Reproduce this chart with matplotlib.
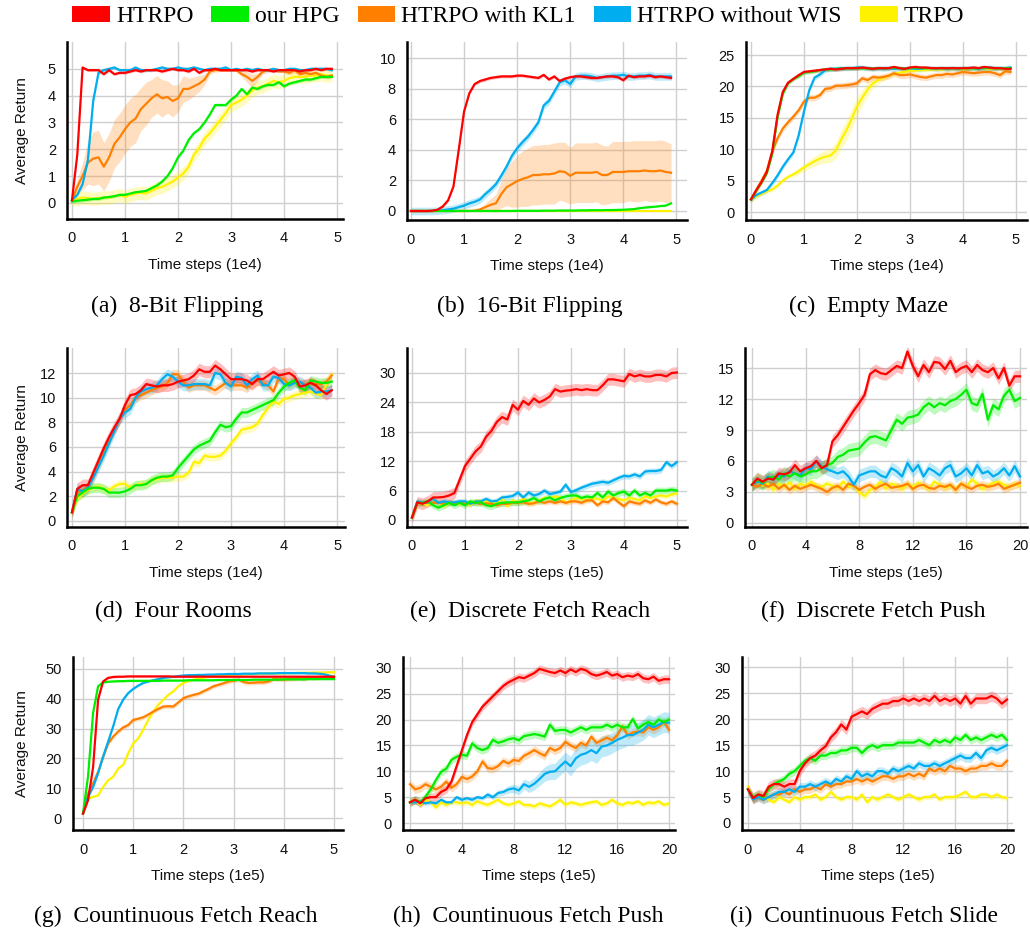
import numpy as np
import matplotlib.pyplot as plt
from matplotlib.patches import Patch

plt.rcParams['font.family'] = ['Liberation Sans', 'DejaVu Sans']

names = ['HTRPO', 'our HPG', 'HTRPO with KL1', 'HTRPO without WIS', 'TRPO']
colors = ['#ff0000', '#00ee00', '#ff8000', '#00adef', '#fff200']

# ---- (a) 8-Bit Flipping, 0..4.9 (1e4)
a_red = [0.1, 1.8, 5.05, 4.95, 4.95, 4.95, 4.8, 4.95, 4.8, 4.85,
         4.85, 4.9, 4.95, 4.9, 4.95, 4.95, 4.95, 4.9, 4.95, 5.0,
         4.95, 4.95, 4.9, 5.0, 4.85, 4.95, 4.95, 5.0, 4.95, 4.95,
         4.95, 4.95, 4.95, 4.95, 4.9, 4.95, 4.95, 4.95, 4.9, 4.95,
         4.95, 4.95, 4.95, 4.9, 4.95, 4.95, 5.0, 4.95, 5.0, 5.0]
a_green = [0.05, 0.08, 0.1, 0.12, 0.15, 0.15, 0.2, 0.22, 0.25, 0.3,
           0.3, 0.35, 0.4, 0.42, 0.45, 0.55, 0.65, 0.8, 1.0, 1.3,
           1.7, 1.95, 2.35, 2.6, 2.75, 3.0, 3.3, 3.65, 3.65, 3.65,
           3.85, 4.0, 4.25, 4.05, 4.3, 4.25, 4.35, 4.4, 4.4, 4.5,
           4.35, 4.45, 4.5, 4.55, 4.6, 4.6, 4.65, 4.7, 4.7, 4.7]
a_orange = [0.1, 0.6, 1.0, 1.5, 1.65, 1.7, 1.35, 1.7, 2.2, 2.45,
            2.75, 3.0, 3.15, 3.5, 3.7, 3.9, 4.05, 3.9, 3.95, 3.8,
            3.9, 4.25, 4.25, 4.35, 4.45, 4.6, 4.9, 4.95, 4.95, 4.95,
            4.95, 4.95, 4.8, 4.7, 4.55, 4.7, 4.9, 4.95, 4.95, 4.9,
            4.9, 4.85, 4.95, 4.8, 4.85, 4.8, 4.85, 4.75, 4.7, 4.75]
a_blue = [0.1, 0.3, 0.7, 1.6, 3.8, 4.85, 4.95, 5.0, 5.05, 4.95,
          4.95, 4.95, 5.05, 4.95, 4.95, 4.95, 5.0, 5.05, 5.0, 5.0,
          5.05, 5.0, 5.0, 5.05, 5.0, 4.95, 5.0, 5.0, 5.0, 5.05,
          4.95, 5.0, 4.95, 5.0, 4.95, 5.0, 4.95, 4.95, 5.0, 4.95,
          4.95, 5.0, 5.0, 4.95, 4.95, 5.0, 5.0, 5.0, 5.0, 4.95]
a_yellow = [0.1, 0.15, 0.2, 0.18, 0.15, 0.18, 0.2, 0.2, 0.25, 0.3,
            0.22, 0.3, 0.35, 0.38, 0.35, 0.45, 0.55, 0.6, 0.7, 0.8,
            0.95, 1.1, 1.35, 1.8, 2.05, 2.4, 2.6, 2.85, 3.1, 3.35,
            3.65, 3.75, 3.85, 4.0, 4.2, 4.3, 4.35, 4.45, 4.55, 4.5,
            4.55, 4.65, 4.7, 4.7, 4.7, 4.75, 4.75, 4.8, 4.75, 4.75]
a_orange_band = [0.05, 0.3, 0.5, 0.8, 1.0, 1.0, 0.9, 0.9, 0.9, 0.9,
                 0.9, 0.9, 0.9, 0.8, 0.8, 0.7, 0.7, 0.7, 0.6, 0.6,
                 0.5, 0.5, 0.4, 0.35, 0.3, 0.2, 0.1, 0.08, 0.05, 0.05,
                 0.05, 0.05, 0.1, 0.2, 0.25, 0.15, 0.1, 0.08, 0.05, 0.05,
                 0.05, 0.08, 0.1, 0.15, 0.1, 0.08, 0.08, 0.08, 0.08, 0.08]

# ---- (b) 16-Bit Flipping
b_red = [0, 0, 0, 0, 0.02, 0.08, 0.3, 0.7, 1.6, 4.0,
         6.5, 7.7, 8.3, 8.5, 8.6, 8.7, 8.75, 8.8, 8.8, 8.8,
         8.85, 8.85, 8.8, 8.75, 8.7, 8.9, 8.6, 8.8, 8.5, 8.65,
         8.75, 8.8, 8.8, 8.75, 8.7, 8.7, 8.75, 8.8, 8.8, 8.75,
         8.55, 8.85, 8.75, 8.8, 8.8, 8.85, 8.75, 8.8, 8.75, 8.7]
b_green = [0, 0, 0, 0, 0, 0, 0, 0, 0, 0,
           0, 0, 0, 0, 0, 0, 0, 0, 0, 0,
           0.01, 0.01, 0.01, 0.01, 0.01, 0.02, 0.02, 0.02, 0.03, 0.03,
           0.03, 0.03, 0.04, 0.04, 0.05, 0.05, 0.05, 0.06, 0.06, 0.07,
           0.08, 0.1, 0.12, 0.18, 0.22, 0.25, 0.28, 0.32, 0.35, 0.5]
b_orange = [0, 0, 0, 0, 0, 0, 0, 0, 0, 0,
            0, 0, 0.02, 0.1, 0.25, 0.4, 0.5, 1.1, 1.55, 1.75,
            1.95, 2.1, 2.2, 2.35, 2.35, 2.4, 2.4, 2.45, 2.6, 2.55,
            2.3, 2.5, 2.5, 2.5, 2.5, 2.55, 2.35, 2.35, 2.55, 2.55,
            2.55, 2.6, 2.6, 2.6, 2.65, 2.6, 2.6, 2.65, 2.55, 2.5]
b_blue = [0, 0, 0, 0, 0, 0.02, 0.05, 0.1, 0.15, 0.25,
          0.35, 0.5, 0.6, 0.75, 1.1, 1.4, 1.75, 2.3, 2.9, 3.6,
          4.1, 4.5, 4.85, 5.3, 5.8, 6.9, 7.2, 7.8, 8.4, 8.55,
          8.3, 8.8, 8.85, 8.85, 8.8, 8.7, 8.75, 8.8, 8.85, 8.85,
          8.9, 8.8, 8.8, 8.85, 8.85, 8.9, 8.8, 8.8, 8.8, 8.8]
b_yellow = [0.0] * 50
b_orange_band = [0, 0, 0, 0, 0, 0, 0, 0, 0, 0,
                 0, 0, 0.02, 0.1, 0.25, 0.4, 0.6, 0.9, 1.2, 1.5,
                 1.7, 1.8, 1.9, 1.95, 1.95, 1.95, 1.95, 2.0, 1.9, 1.95,
                 1.85, 1.95, 1.95, 1.95, 1.95, 1.95, 1.95, 1.9, 2.0, 2.0,
                 2.0, 1.95, 2.0, 2.0, 1.95, 2.0, 2.0, 2.0, 2.0, 1.9]

# ---- (c) Empty Maze
c_red = [2.0, 3.5, 4.8, 6.4, 9.6, 15.4, 19.1, 20.6, 21.2, 21.8,
         22.3, 22.4, 22.5, 22.6, 22.7, 22.8, 22.7, 22.8, 22.9, 22.9,
         22.9, 23.0, 22.9, 22.8, 22.9, 22.9, 22.9, 23.1, 22.9, 22.8,
         23.0, 23.1, 23.0, 23.0, 22.9, 22.9, 22.9, 22.9, 22.9, 22.9,
         22.9, 22.9, 23.0, 22.9, 23.1, 23.0, 22.9, 22.9, 22.8, 22.8]
c_green = [2.0, 3.4, 4.7, 6.2, 9.2, 15.0, 18.8, 20.5, 21.2, 21.6,
           22.2, 22.3, 22.4, 22.6, 22.7, 22.7, 22.8, 22.8, 22.9, 22.9,
           22.9, 22.9, 22.9, 22.8, 22.9, 22.9, 22.9, 23.0, 22.9, 22.8,
           22.9, 23.0, 22.9, 22.9, 22.9, 22.9, 22.9, 22.9, 22.9, 22.9,
           22.9, 22.9, 22.9, 22.9, 23.0, 22.9, 22.9, 22.9, 22.9, 22.9]
c_orange = [2.0, 3.5, 5.0, 6.6, 9.6, 11.7, 13.3, 14.3, 15.2, 16.2,
            17.6, 18.2, 18.2, 18.6, 19.6, 19.7, 20.1, 20.1, 20.2, 20.3,
            20.5, 21.3, 21.0, 21.5, 21.4, 21.5, 21.7, 22.1, 21.8, 21.8,
            21.9, 21.7, 21.5, 21.4, 21.6, 21.8, 21.8, 22.0, 21.9, 22.1,
            22.3, 22.2, 22.1, 22.2, 22.3, 22.3, 22.1, 21.8, 22.4, 22.3]
c_blue = [2.0, 2.7, 3.1, 3.5, 4.6, 5.8, 7.2, 8.4, 9.5, 12.2,
          16.0, 19.4, 21.4, 21.9, 22.6, 22.8, 22.8, 22.9, 22.9, 22.9,
          23.0, 23.0, 22.9, 22.8, 22.9, 22.8, 22.9, 22.8, 22.9, 22.8,
          22.9, 22.8, 22.8, 22.9, 22.9, 22.8, 22.9, 22.8, 22.9, 22.8,
          22.9, 22.9, 22.9, 22.8, 22.9, 23.0, 22.9, 22.9, 22.9, 23.0]
c_yellow = [2.0, 2.5, 2.9, 3.3, 3.6, 4.2, 5.0, 5.6, 6.0, 6.5,
            7.1, 7.6, 8.1, 8.5, 8.8, 9.0, 9.8, 11.5, 13.0, 14.8,
            16.8, 18.2, 19.5, 20.5, 21.0, 21.4, 21.7, 22.0, 22.2, 22.3,
            22.5, 22.5, 22.6, 22.6, 22.7, 22.7, 22.7, 22.8, 22.8, 22.8,
            22.7, 22.8, 22.9, 22.8, 22.9, 22.8, 22.9, 22.8, 22.7, 22.8]
c_yellow_band = [0.5, 0.4, 0.3, 0.3, 0.3, 0.3, 0.3, 0.3, 0.4, 0.5,
                 0.6, 0.7, 0.8, 0.9, 1.0, 1.1, 1.3, 1.5, 1.6, 1.6,
                 1.5, 1.3, 1.0, 0.8, 0.6, 0.5, 0.4, 0.3, 0.3, 0.3,
                 0.3, 0.3, 0.3, 0.3, 0.3, 0.3, 0.3, 0.3, 0.3, 0.3,
                 0.3, 0.3, 0.3, 0.3, 0.3, 0.3, 0.3, 0.3, 0.3, 0.3]

# ---- (d) Four Rooms
d_red = [0.7, 2.6, 2.9, 2.9, 3.9, 4.9, 5.9, 6.8, 7.6, 8.3,
         9.4, 10.2, 10.3, 10.6, 11.1, 11.0, 10.9, 11.0, 11.0, 11.1,
         11.3, 11.4, 11.5, 11.8, 12.3, 12.1, 12.1, 12.6, 12.3, 11.9,
         11.5, 11.5, 11.5, 11.4, 11.1, 11.5, 11.5, 11.8, 12.1, 11.8,
         11.9, 12.0, 11.7, 10.9, 11.0, 11.2, 11.0, 10.6, 10.3, 10.6]
d_green = [0.7, 2.0, 2.3, 2.6, 2.7, 2.7, 2.6, 2.3, 2.3, 2.3,
           2.4, 2.6, 2.9, 2.9, 3.0, 3.3, 3.5, 3.6, 3.6, 3.7,
           4.3, 4.8, 5.3, 5.8, 6.1, 6.3, 6.5, 7.2, 7.8, 7.6,
           7.7, 8.3, 8.8, 8.8, 9.0, 9.2, 9.4, 9.6, 9.8, 10.4,
           10.9, 11.2, 11.4, 10.8, 10.6, 11.4, 11.3, 11.2, 11.2, 11.3]
d_orange = [0.7, 2.4, 2.5, 2.8, 3.5, 4.5, 5.5, 6.5, 7.4, 8.3,
            9.0, 9.4, 10.0, 10.2, 10.4, 10.6, 10.8, 10.9, 11.2, 11.9,
            11.9, 11.3, 10.8, 11.0, 11.0, 11.0, 10.8, 10.6, 10.9, 11.2,
            11.0, 11.0, 11.0, 10.8, 11.2, 11.4, 11.2, 11.0, 10.5, 11.6,
            11.5, 11.0, 11.3, 11.2, 11.1, 11.2, 11.1, 11.1, 11.3, 11.8]
d_blue = [0.7, 2.6, 2.4, 2.7, 3.5, 4.4, 5.3, 6.3, 7.3, 8.3,
          8.8, 9.1, 10.0, 10.5, 10.7, 10.8, 11.0, 11.5, 11.9, 11.7,
          11.3, 11.0, 11.0, 11.1, 11.1, 11.1, 11.0, 12.0, 11.9, 11.2,
          10.9, 11.7, 11.6, 11.0, 11.5, 11.8, 11.0, 11.0, 11.7, 11.6,
          11.1, 11.0, 11.2, 11.3, 11.0, 10.8, 10.4, 10.5, 10.5, 10.6]
d_yellow = [0.7, 1.8, 2.2, 2.5, 2.7, 2.8, 2.6, 2.5, 2.8, 3.0,
            3.0, 2.7, 2.9, 3.0, 3.0, 3.3, 3.4, 3.5, 3.5, 3.5,
            3.6, 3.6, 3.9, 4.8, 4.7, 5.3, 5.2, 5.2, 5.3, 5.7,
            6.3, 6.8, 7.4, 7.5, 7.6, 7.9, 8.6, 9.2, 9.7, 9.5,
            9.9, 10.0, 10.2, 10.3, 10.4, 10.5, 10.3, 10.2, 11.1, 11.9]

# ---- (e) Discrete Fetch Reach, 0..5 (1e5)
e_red = [0.5, 3.6, 3.3, 3.8, 4.6, 4.6, 4.7, 5.0, 5.5, 8.2,
         11.0, 12.5, 14.0, 15.0, 17.0, 18.2, 20.0, 21.0, 20.5, 23.5,
         22.5, 24.3, 23.5, 24.8, 24.0, 24.5, 25.2, 26.7, 26.2, 26.4,
         26.5, 26.7, 26.5, 26.7, 26.5, 26.5, 27.5, 28.7, 28.7, 28.5,
         28.3, 29.8, 29.3, 29.6, 29.3, 29.3, 29.6, 29.6, 29.3, 30.0,
         30.1]
e_green = [0.5, 3.5, 3.5, 3.8, 3.0, 2.5, 3.0, 3.5, 3.0, 3.5,
           3.0, 3.8, 3.5, 3.6, 3.0, 2.8, 3.3, 3.5, 3.6, 3.6,
           3.6, 3.8, 4.0, 4.5, 3.8, 4.3, 4.6, 4.0, 4.5, 4.8,
           5.0, 5.0, 4.5, 4.8, 4.6, 5.5, 4.6, 5.8, 5.0, 5.5,
           5.8, 5.0, 6.0, 5.0, 5.5, 5.0, 6.0, 6.0, 6.0, 6.2,
           6.0]
e_orange = [0.5, 3.5, 3.5, 3.6, 3.5, 3.5, 3.3, 3.5, 3.5, 3.6,
            3.3, 3.5, 3.5, 3.3, 3.4, 3.3, 3.0, 3.3, 3.3, 3.5,
            3.5, 3.6, 3.3, 3.4, 3.8, 3.5, 3.8, 3.5, 3.8, 3.5,
            3.8, 3.8, 3.5, 4.0, 4.0, 3.0, 3.8, 3.6, 4.5, 3.6,
            2.8, 3.8, 3.5, 3.3, 4.0, 3.5, 4.2, 3.6, 3.3, 3.8,
            3.3]
e_blue = [0.5, 3.8, 3.5, 3.6, 4.3, 3.5, 3.8, 3.6, 3.6, 3.8,
          3.8, 3.3, 3.8, 3.8, 4.3, 3.8, 3.9, 4.6, 4.7, 4.9,
          5.6, 4.6, 5.6, 5.0, 5.3, 6.0, 5.3, 5.5, 5.8, 7.2,
          5.7, 6.1, 6.6, 7.0, 7.4, 7.6, 7.8, 7.6, 8.1, 8.6,
          9.0, 8.9, 9.3, 8.9, 9.9, 10.0, 10.0, 10.2, 11.8, 11.0,
          11.8]
e_yellow = [0.5, 3.5, 3.3, 3.0, 4.3, 3.5, 2.8, 3.5, 3.5, 3.3,
            3.5, 3.0, 4.0, 3.8, 3.8, 3.5, 3.3, 4.5, 2.8, 4.0,
            3.5, 4.5, 3.3, 3.6, 4.0, 4.5, 4.5, 4.8, 4.6, 3.5,
            4.0, 4.5, 4.3, 4.0, 4.5, 4.3, 4.0, 4.8, 4.5, 4.3,
            4.0, 4.5, 4.3, 4.0, 4.8, 4.5, 4.8, 5.0, 4.8, 5.2,
            5.4]

# ---- (f) Discrete Fetch Push, 0..20 (1e5)
f_red = [3.7, 4.3, 4.0, 4.3, 4.2, 4.8, 4.7, 4.9, 5.6, 5.0,
         5.3, 5.5, 6.0, 5.3, 5.6, 7.9, 8.5, 9.3, 10.1, 10.9,
         11.6, 12.4, 14.4, 14.8, 14.5, 14.4, 14.8, 15.2, 15.0, 16.6,
         15.2, 14.2, 15.3, 14.6, 15.6, 15.5, 14.9, 15.7, 14.6, 15.0,
         15.2, 14.6, 15.3, 14.8, 14.6, 15.0, 14.0, 15.0, 13.3, 14.2,
         14.2]
f_green = [3.7, 4.2, 3.9, 4.3, 4.5, 4.2, 4.8, 4.5, 4.8, 4.5,
           4.7, 5.0, 5.0, 5.3, 5.6, 5.8, 6.4, 6.6, 7.0, 7.1,
           7.2, 7.8, 8.3, 8.4, 8.2, 8.0, 9.0, 10.0, 9.6, 10.2,
           10.3, 10.5, 11.2, 11.6, 11.2, 11.6, 11.4, 11.8, 12.0, 12.4,
           12.9, 11.6, 11.4, 12.5, 10.0, 11.4, 11.0, 12.3, 12.9, 11.8,
           12.1]
f_orange = [3.7, 3.5, 3.8, 3.5, 3.8, 3.3, 3.7, 3.2, 3.6, 3.3,
            3.5, 3.7, 3.5, 3.3, 3.0, 3.4, 3.6, 3.2, 3.8, 3.6,
            3.2, 3.5, 3.7, 3.3, 3.6, 3.8, 3.4, 3.5, 3.6, 3.8,
            3.3, 3.6, 3.7, 3.4, 3.3, 3.6, 3.5, 3.7, 3.2, 3.8,
            3.5, 3.3, 3.6, 3.7, 3.5, 3.6, 3.8, 3.3, 3.5, 3.7,
            3.9]
f_blue = [3.7, 4.0, 3.8, 4.5, 4.2, 4.6, 4.5, 5.0, 4.8, 4.6,
          5.3, 5.2, 6.0, 5.5, 5.2, 5.0, 4.8, 5.0, 4.5, 3.7,
          4.6, 4.8, 5.0, 5.0, 4.6, 4.4, 5.3, 5.0, 4.5, 5.8,
          5.0, 5.6, 4.5, 5.3, 5.0, 4.6, 5.3, 5.6, 4.5, 4.8,
          5.3, 4.6, 5.6, 4.8, 5.0, 4.5, 4.8, 5.3, 4.6, 5.5,
          4.5]
f_yellow = [3.7, 4.0, 3.6, 3.8, 3.2, 3.8, 3.5, 3.9, 3.3, 3.8,
            3.6, 4.0, 3.6, 3.5, 3.8, 3.6, 3.4, 4.0, 3.5, 3.6,
            3.0, 2.6, 3.2, 3.5, 4.0, 3.3, 3.8, 3.6, 3.3, 3.8,
            3.5, 3.9, 3.6, 3.3, 4.0, 3.7, 3.4, 3.6, 3.3, 3.8,
            3.5, 4.2, 3.8, 3.3, 3.6, 3.9, 4.0, 3.7, 3.5, 3.8,
            3.6]

# ---- (g) Countinuous Fetch Reach, 0..5 (1e5)
g_red = [1.5, 6.0, 17.0, 39.7, 45.8, 47.0, 47.3, 47.4, 47.4, 47.5,
         47.5, 47.5, 47.5, 47.5, 47.5, 47.5, 47.5, 47.5, 47.4, 47.4,
         47.4, 47.4, 47.4, 47.4, 47.4, 47.4, 47.4, 47.4, 47.4, 47.4,
         47.4, 47.4, 47.4, 47.4, 47.4, 47.4, 47.4, 47.4, 47.4, 47.4,
         47.4, 47.4, 47.4, 47.4, 47.4, 47.4, 47.4, 47.4, 47.4, 47.4,
         47.3]
g_green = [1.5, 14.0, 35.2, 44.2, 45.5, 45.7, 45.8, 45.9, 45.9, 46.0,
           46.0, 46.0, 46.0, 46.0, 46.0, 46.0, 46.1, 46.1, 46.1, 46.1,
           46.1, 46.2, 46.2, 46.2, 46.2, 46.2, 46.2, 46.3, 46.3, 46.3,
           46.3, 46.3, 46.3, 46.3, 46.4, 46.4, 46.4, 46.4, 46.4, 46.4,
           46.5, 46.5, 46.5, 46.5, 46.5, 46.6, 46.6, 46.6, 46.6, 46.6,
           46.6]
g_orange = [1.5, 8.2, 11.6, 15.5, 20.5, 25.0, 27.3, 29.0, 30.4, 31.2,
            32.9, 33.3, 33.8, 34.7, 35.7, 36.6, 37.4, 37.5, 37.4, 38.8,
            40.2, 40.8, 41.3, 41.7, 42.5, 43.3, 44.2, 44.7, 45.2, 45.8,
            46.0, 46.4, 45.6, 45.3, 45.4, 45.5, 45.5, 45.8, 46.6, 46.5,
            46.4, 46.6, 46.6, 46.8, 46.6, 47.0, 46.9, 47.1, 47.2, 47.3,
            47.5]
g_blue = [1.5, 7.1, 10.4, 15.0, 20.6, 25.6, 30.7, 36.5, 39.7, 41.9,
          43.3, 44.4, 45.3, 45.8, 46.2, 46.6, 47.0, 47.2, 47.4, 47.6,
          47.8, 47.9, 47.9, 48.0, 48.0, 48.1, 48.1, 48.2, 48.2, 48.3,
          48.3, 48.3, 48.4, 48.4, 48.4, 48.5, 48.5, 48.5, 48.5, 48.6,
          48.6, 48.6, 48.6, 48.6, 48.6, 48.5, 48.5, 48.4, 48.2, 47.8,
          47.3]
g_yellow = [1.5, 6.5, 7.1, 7.6, 10.4, 12.7, 13.8, 16.6, 17.8, 21.7,
            25.0, 26.7, 29.6, 32.9, 35.7, 38.0, 39.7, 41.3, 42.5, 44.2,
            45.3, 45.9, 46.4, 46.8, 47.1, 47.3, 47.5, 47.7, 47.9, 48.0,
            48.1, 48.2, 48.2, 48.3, 48.3, 48.4, 48.4, 48.5, 48.5, 48.5,
            48.6, 48.6, 48.6, 48.7, 48.7, 48.7, 48.8, 48.8, 48.8, 48.9,
            48.9]

# ---- (h) Countinuous Fetch Push, 0..20 (1e5)
h_red = [4.0, 4.5, 3.8, 4.8, 5.0, 5.0, 6.0, 6.5, 8.0, 11.0,
         14.0, 17.0, 19.5, 21.0, 22.5, 23.5, 24.5, 25.5, 26.5, 27.2,
         27.7, 28.2, 28.0, 28.5, 29.0, 29.8, 29.5, 29.2, 29.0, 29.5,
         29.0, 29.7, 29.2, 29.8, 29.5, 28.8, 28.5, 28.8, 29.2, 28.5,
         28.8, 28.2, 28.5, 28.3, 28.8, 28.0, 27.8, 28.3, 27.5, 27.8,
         27.8]
h_green = [4.0, 4.5, 4.0, 5.1, 6.5, 8.3, 9.9, 10.5, 12.2, 12.8,
           13.2, 13.0, 15.4, 14.5, 14.1, 14.5, 16.1, 15.5, 15.8, 16.2,
           16.4, 16.0, 16.8, 17.0, 17.2, 17.0, 16.7, 19.0, 17.8, 18.0,
           18.0, 17.5, 18.0, 18.5, 18.0, 18.5, 18.5, 18.5, 19.0, 18.5,
           19.0, 18.5, 18.5, 20.1, 18.3, 19.0, 19.5, 19.0, 20.0, 19.5,
           20.0]
h_orange = [7.5, 6.5, 6.8, 7.5, 7.0, 6.5, 7.0, 8.0, 6.8, 7.5,
            8.9, 8.5, 9.0, 10.0, 11.9, 10.6, 10.5, 11.0, 12.0, 11.5,
            12.2, 12.0, 13.0, 13.5, 14.1, 13.5, 13.0, 14.5, 14.0, 14.5,
            15.7, 15.0, 14.5, 15.5, 15.0, 16.7, 15.5, 16.0, 16.5, 16.0,
            17.0, 18.7, 17.0, 17.5, 17.7, 17.5, 18.5, 18.0, 18.5, 19.6,
            18.0]
h_blue = [4.0, 4.0, 4.2, 3.8, 4.0, 3.8, 4.5, 4.0, 4.0, 5.0,
          4.5, 4.8, 4.5, 5.0, 4.8, 5.5, 5.0, 5.8, 6.0, 6.5,
          6.7, 6.3, 7.5, 7.0, 7.6, 8.5, 9.5, 9.9, 10.0, 11.0,
          11.9, 11.0, 12.5, 13.2, 13.5, 14.1, 13.5, 14.8, 15.0, 15.5,
          16.1, 16.5, 17.0, 17.0, 17.5, 18.0, 19.0, 18.5, 19.0, 19.5,
          19.4]
h_yellow = [4.0, 4.5, 3.5, 4.5, 4.0, 3.0, 4.0, 3.5, 4.0, 4.0,
            3.8, 4.0, 3.5, 4.2, 3.8, 3.5, 4.0, 4.5, 3.8, 3.5,
            3.8, 4.2, 3.5, 3.5, 3.2, 3.8, 3.5, 3.2, 3.8, 4.5,
            3.5, 4.0, 3.8, 3.5, 3.8, 4.0, 4.2, 3.5, 3.8, 4.5,
            3.8, 3.5, 4.0, 3.8, 4.2, 3.5, 4.0, 3.8, 4.2, 3.5,
            3.8]
h_blue_band = [0.4, 0.4, 0.4, 0.4, 0.4, 0.4, 0.4, 0.4, 0.4, 0.4,
               0.4, 0.4, 0.4, 0.4, 0.4, 0.5, 0.5, 0.6, 0.6, 0.7,
               0.8, 0.9, 1.0, 1.1, 1.2, 1.3, 1.4, 1.5, 1.6, 1.7,
               1.8, 1.9, 2.0, 2.0, 2.0, 2.0, 2.0, 2.0, 2.0, 2.0,
               2.0, 2.0, 2.0, 2.0, 2.0, 2.0, 2.0, 2.0, 2.0, 2.0,
               2.0]

# ---- (i) Countinuous Fetch Slide, 0..20 (1e5)
i_red = [6.5, 4.8, 5.5, 5.2, 7.0, 7.5, 7.5, 7.0, 7.5, 7.5,
         10.0, 11.5, 12.5, 13.0, 14.0, 14.8, 16.5, 17.5, 19.0, 18.0,
         20.5, 21.0, 21.5, 21.0, 22.0, 22.5, 23.0, 23.0, 23.5, 23.5,
         24.0, 23.5, 24.0, 23.5, 24.0, 23.5, 24.5, 23.5, 24.0, 23.5,
         24.0, 23.0, 24.5, 23.0, 24.0, 24.0, 24.0, 24.5, 24.0, 23.0,
         23.8]
i_green = [6.5, 5.0, 5.5, 5.0, 6.5, 7.5, 8.0, 8.5, 9.5, 10.0,
           11.0, 12.0, 12.5, 12.0, 13.0, 13.0, 13.5, 13.5, 14.0, 14.0,
           14.5, 14.5, 13.5, 14.5, 15.0, 14.5, 15.0, 15.0, 15.0, 15.5,
           15.5, 15.5, 15.5, 16.0, 15.5, 15.0, 16.0, 15.5, 16.0, 15.5,
           16.5, 16.0, 17.0, 16.0, 16.5, 16.0, 16.5, 17.0, 16.5, 17.0,
           16.0]
i_orange = [6.5, 4.5, 5.0, 4.5, 5.0, 5.5, 5.5, 6.0, 5.5, 6.5,
            6.0, 6.5, 6.5, 7.0, 6.5, 7.5, 7.0, 7.5, 7.5, 8.0,
            8.0, 8.5, 8.0, 8.5, 8.0, 8.5, 9.0, 9.0, 8.5, 9.0,
            9.0, 9.5, 9.0, 9.5, 9.0, 10.5, 10.0, 10.5, 10.0, 11.0,
            10.5, 10.5, 10.0, 10.5, 10.5, 11.0, 11.0, 11.5, 11.0, 11.0,
            12.0]
i_blue = [6.5, 4.5, 5.0, 4.5, 5.0, 5.5, 6.0, 6.0, 6.5, 6.0,
          7.0, 7.0, 7.5, 7.0, 7.5, 8.0, 7.5, 8.5, 8.0, 9.0,
          8.5, 10.0, 9.0, 9.5, 9.0, 10.0, 10.0, 9.5, 10.5, 10.0,
          10.5, 11.0, 10.5, 11.5, 11.0, 11.0, 11.5, 11.0, 11.5, 12.0,
          12.5, 13.0, 12.5, 12.5, 13.5, 12.5, 14.0, 14.5, 14.0, 14.5,
          15.0]
i_yellow = [7.0, 4.5, 5.5, 5.0, 4.5, 4.0, 5.0, 4.5, 4.0, 5.0,
            4.5, 5.0, 5.0, 5.5, 4.5, 5.0, 6.0, 5.0, 4.5, 5.0,
            5.0, 4.5, 5.5, 4.0, 5.0, 4.5, 5.0, 5.5, 5.0, 4.5,
            5.0, 5.5, 5.0, 4.5, 5.0, 5.0, 5.5, 4.5, 5.0, 5.0,
            5.0, 5.5, 6.0, 5.0, 5.0, 5.5, 5.5, 5.0, 5.5, 5.0,
            4.8]

# band half-widths (red, green, orange, blue, yellow)
a_band = [0.05, 0.06, a_orange_band, 0.06, 0.25]
b_band = [0.1, 0.03, b_orange_band, 0.25, 0.02]
c_band = [0.3, 0.3, 0.5, 0.4, c_yellow_band]
d_band = [0.5, 0.4, 0.4, 0.45, 0.35]
e_band = [1.2, 0.7, 0.5, 0.6, 0.5]
f_band = [0.6, 0.7, 0.4, 0.6, 0.4]
g_band = [0.3, 0.3, 0.7, 0.3, 0.3]
h_band = [0.8, 0.8, 0.8, h_blue_band, 0.5]
i_band = [1.0, 0.8, 0.8, 0.8, 0.5]

W, H = 1030, 931
fig = plt.figure(figsize=(W / 100, H / 100), dpi=100)

panels = [
    # series, bands, x_end, rect(px l,t,r,b), xlim, ylim, xticks, yticks, unit, caption, caption x
    ([a_red, a_green, a_orange, a_blue, a_yellow], a_band, 4.9, (67, 42, 343, 219),
     (-0.094, 5.11), (-0.6, 6.0), range(0, 6), range(0, 6), '1e4', '(a)  8-Bit Flipping', 177),
    ([b_red, b_green, b_orange, b_blue, b_yellow], b_band, 4.9, (407, 42, 687, 220),
     (-0.075, 5.2), (-0.59, 11.05), range(0, 6), range(0, 11, 2), '1e4', '(b)  16-Bit Flipping', 530),
    ([c_red, c_green, c_orange, c_blue, c_yellow], c_band, 4.9, (746, 42, 1027, 220),
     (-0.094, 5.21), (-1.27, 27.07), range(0, 6), range(0, 26, 5), '1e4', '(c)  Empty Maze', 869),
    ([d_red, d_green, d_orange, d_blue, d_yellow], d_band, 4.9, (67, 348, 345, 527),
     (-0.094, 5.15), (-0.49, 14.03), range(0, 6), range(0, 13, 2), '1e4', '(d)  Four Rooms', 173),
    ([e_red, e_green, e_orange, e_blue, e_yellow], e_band, 5.0, (407, 348, 687, 527),
     (-0.094, 5.19), (-1.43, 35.1), range(0, 6), range(0, 31, 6), '1e5', '(e)  Discrete Fetch Reach', 530),
    ([f_red, f_green, f_orange, f_blue, f_yellow], f_band, 20.0, (745, 348, 1027, 527),
     (-0.52, 20.52), (-0.39, 16.94), range(0, 21, 4), range(0, 16, 3), '1e5', '(f)  Discrete Fetch Push', 873),
    ([g_red, g_green, g_orange, g_blue, g_yellow], g_band, 5.0, (73, 657, 343, 830),
     (-0.2, 5.18), (-4.0, 54.0), range(0, 6), range(0, 51, 10), '1e5', '(g)  Countinuous Fetch Reach', 176),
    ([h_red, h_green, h_orange, h_blue, h_yellow], h_band, 20.0, (403, 657, 675, 830),
     (-0.54, 20.46), (-1.35, 32.1), range(0, 21, 4), range(0, 31, 5), '1e5', '(h)  Countinuous Fetch Push', 528),
    ([i_red, i_green, i_orange, i_blue, i_yellow], i_band, 20.0, (742, 657, 1013, 830),
     (-0.46, 20.46), (-1.35, 32.0), range(0, 21, 4), range(0, 31, 5), '1e5', '(i)  Countinuous Fetch Slide', 864),
]
caption_base = [312, 617, 922]
draw_order = [4, 2, 3, 1, 0]

for k, (series, bands, x_end, rect, xlim, ylim, xt, yt, unit, cap, cap_x) in enumerate(panels):
    l, t, r, b = rect
    ax = fig.add_axes([l / W, 1 - b / H, (r - l) / W, (b - t) / H])
    for j in draw_order:
        y = np.array(series[j], dtype=float)
        x = np.linspace(0, x_end, len(y))
        band = np.array(bands[j], dtype=float)
        ax.fill_between(x, y - band, y + band, color=colors[j], alpha=0.25, lw=0)
        ax.plot(x, y, color=colors[j], lw=1.6)
    ax.set_xlim(*xlim)
    ax.set_ylim(*ylim)
    ax.set_xticks(list(xt))
    ax.set_yticks(list(yt))
    ax.grid(color='#cfcfcf', lw=1.0)
    ax.set_axisbelow(True)
    for s in ['top', 'right']:
        ax.spines[s].set_visible(False)
    for s in ['left', 'bottom']:
        ax.spines[s].set_linewidth(1.8)
        ax.spines[s].set_color('black')
    ax.tick_params(axis='both', length=0, labelsize=10.5, colors='#111111')
    ax.tick_params(axis='x', pad=9)
    ax.tick_params(axis='y', pad=8)
    ax.set_xlabel('Time steps (%s)' % unit, fontsize=11, color='#111111')
    ax.xaxis.set_label_coords(0.5, -39 / (b - t))
    if k % 3 == 0:
        ax.set_ylabel('Average Return', fontsize=11, color='#111111')
        ax.yaxis.set_label_coords((29 - l) / (r - l), 0.5)
    fig.text(cap_x / W, 1 - caption_base[k // 3] / H, cap, ha='center', va='baseline',
             fontsize=17, family='Liberation Serif')

handles = [Patch(facecolor=c, edgecolor='none') for c in colors]
fig.legend(handles, names, loc='center', bbox_to_anchor=(0.503, 0.982), ncol=5,
           frameon=False, prop={'family': 'Liberation Serif', 'size': 17},
           handlelength=1.6, handleheight=0.67, handletextpad=0.25, columnspacing=0.76)

fig.savefig('out.png', dpi=100, facecolor='white')
